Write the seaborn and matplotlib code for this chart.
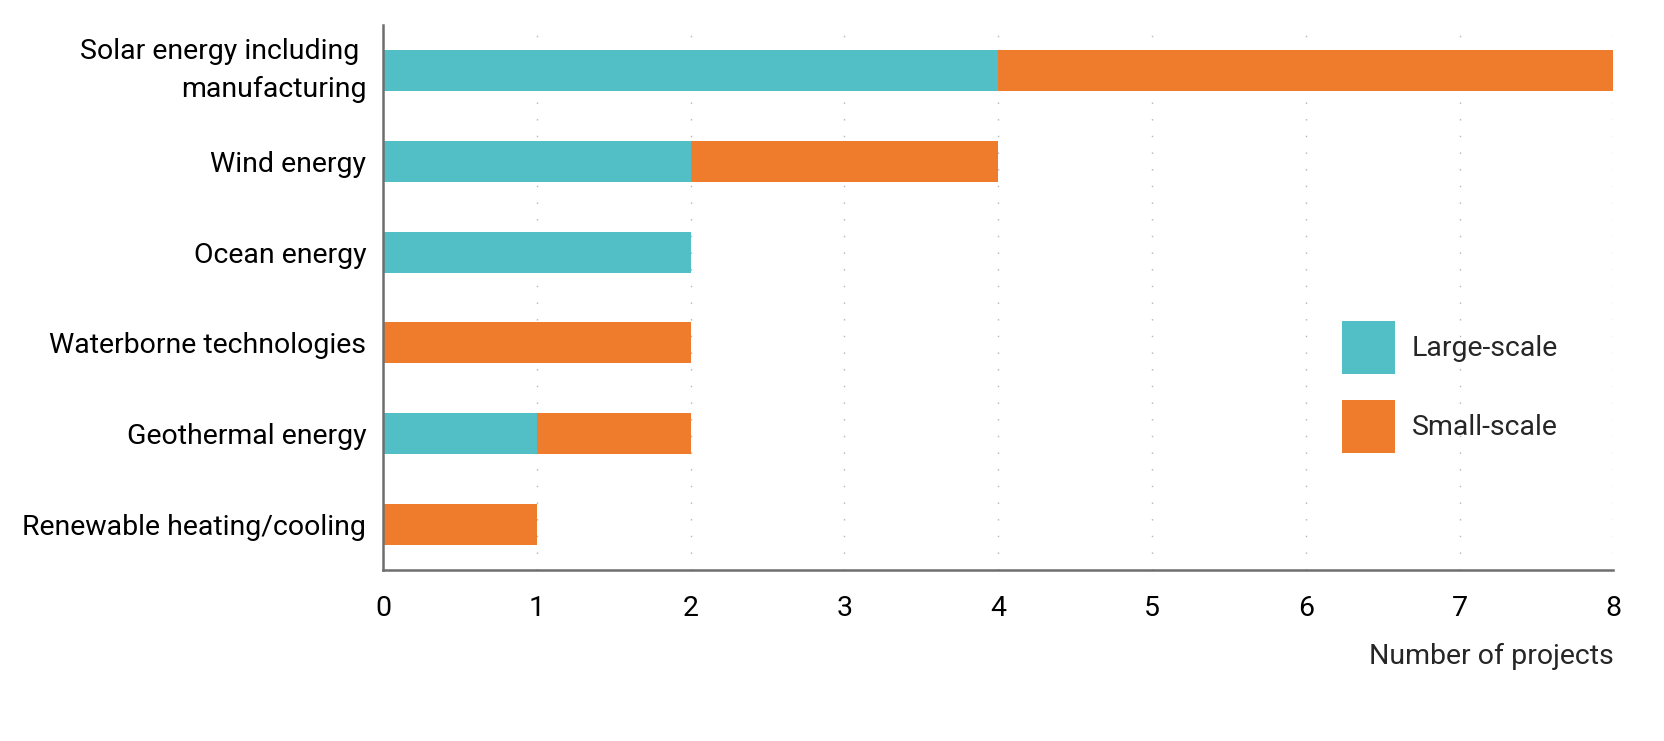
import numpy as np
import pandas as pd
import seaborn as sns
import matplotlib.pyplot as plt
from matplotlib.patches import Patch

categories = ["Solar energy including \nmanufacturing", "Wind energy", "Ocean energy",
              "Waterborne technologies", "Geothermal energy", "Renewable heating/cooling"]
large_scale = [4, 2, 2, 0, 1, 0]
small_scale = [4, 2, 0, 2, 1, 1]
x_ticks = [0, 1, 2, 3, 4, 5, 6, 7, 8]

teal = "#52bec6"
orange = "#ef7b2c"

df = pd.DataFrame({"category": categories, "large": large_scale, "small": small_scale})
df["total"] = df["large"] + df["small"]

sns.set_style("white")
plt.rcParams["font.family"] = ["Roboto", "DejaVu Sans"]

fig = plt.figure(figsize=(16.65, 7.41), dpi=100)
ax = fig.add_axes([0.230, 0.231, 0.739, 0.735])

# total first (orange), then large-scale part on top
sns.barplot(data=df, x="total", y="category", orient="h", color=orange,
            width=0.45, saturation=1, edgecolor="none", ax=ax, zorder=3)
sns.barplot(data=df, x="large", y="category", orient="h", color=teal,
            width=0.45, saturation=1, edgecolor="none", ax=ax, zorder=4)

ax.set_xlim(0, 8)
ax.set_ylim(5.5, -0.5)
ax.set_xticks(x_ticks)
ax.xaxis.grid(True, color="#b5b5b5", linestyle=(0, (1, 11)), linewidth=1)
ax.set_axisbelow(True)

for s in ["top", "right"]:
    ax.spines[s].set_visible(False)
for s in ["left", "bottom"]:
    ax.spines[s].set_color("#6e6e6e")
    ax.spines[s].set_linewidth(1.8)
    ax.spines[s].set_zorder(5)

ax.tick_params(axis="x", length=0, pad=18, labelsize=20.5, colors="black")
ax.tick_params(axis="y", length=0, pad=12, labelsize=20.5, colors="black")
ylabels = ax.get_yticklabels()
ylabels[0].set_linespacing(1.5)
ylabels[0].set_verticalalignment("center")
ax.set_ylabel("")
ax.set_xlabel("Number of projects", loc="right", fontsize=20.5, labelpad=15)

handles = [Patch(facecolor=teal, edgecolor="none"), Patch(facecolor=orange, edgecolor="none")]
ax.legend(handles, ["Large-scale", "Small-scale"], loc="upper left",
          bbox_to_anchor=(0.7797, 0.457), frameon=False, fontsize=20.5,
          handlelength=1.85, handleheight=2.5, handletextpad=0.6,
          labelspacing=0.9, borderpad=0, borderaxespad=0)

plt.savefig("out.png", dpi=100)
